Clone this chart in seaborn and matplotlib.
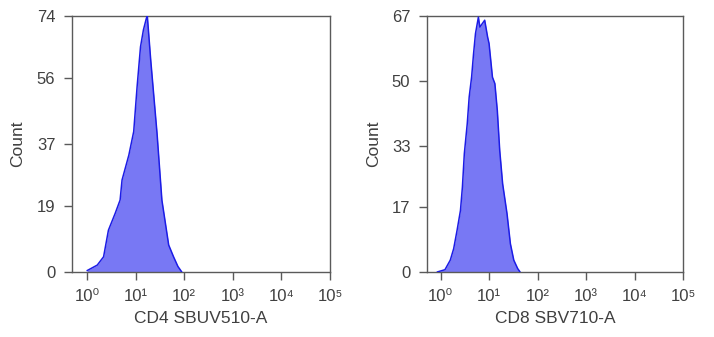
import numpy as np
import pandas as pd
import seaborn as sns
import matplotlib
matplotlib.use("Agg")
import matplotlib.pyplot as plt
from matplotlib.ticker import FixedLocator, NullLocator

# Histogram outlines: channel position (log10 of intensity) and event count
cd4_log = [0.00, 0.21, 0.34, 0.44, 0.58, 0.68, 0.72, 0.86, 0.96, 1.03, 1.10,
           1.16, 1.22, 1.24, 1.31, 1.44, 1.54, 1.68, 1.78, 1.87, 1.95]
cd4_count = [0.4, 2.0, 4.4, 12.1, 17.0, 20.8, 26.6, 33.8, 40.6, 53.6, 65.1,
             70.0, 73.3, 74.0, 61.3, 40.1, 20.8, 7.8, 4.4, 1.6, 0.0]

cd8_log = [-0.07, 0.09, 0.20, 0.27, 0.34, 0.41, 0.45, 0.49, 0.55, 0.59, 0.64,
           0.68, 0.72, 0.78, 0.81, 0.86, 0.91, 0.97, 1.00, 1.07, 1.12, 1.17,
           1.22, 1.28, 1.37, 1.44, 1.51, 1.59, 1.64]
cd8_count = [0.0, 0.6, 3.1, 6.1, 10.9, 16.1, 22.2, 31.0, 38.8, 45.8, 51.0,
             57.1, 62.4, 66.7, 64.1, 65.0, 65.9, 61.5, 59.8, 51.0, 49.3, 42.3,
             31.8, 23.1, 15.3, 7.4, 3.1, 0.9, 0.0]

cd4_yticks = [0, 19, 37, 56, 74]
cd8_yticks = [0, 17, 33, 50, 67]
decades = [0, 1, 2, 3, 4, 5]
decade_labels = ["10\u2070", "10\u00b9", "10\u00b2", "10\u00b3", "10\u2074", "10\u2075"]

panels = [
    ("CD4 SBUV510-A", cd4_log, cd4_count, cd4_yticks, -0.31),
    ("CD8 SBV710-A", cd8_log, cd8_count, cd8_yticks, -0.28),
]

sns.set_theme(style="white")
plt.rcParams["font.family"] = ["Liberation Sans", "DejaVu Sans"]

text_color = "#404040"
spine_color = "#5a5a5a"
fill_color = "#7878f4"
edge_color = "#1c1ce6"

fig = plt.figure(figsize=(7.14, 3.37), dpi=100)
axes_boxes = [
    [72 / 714, 1 - 272 / 337, (330 - 72) / 714, (272 - 16) / 337],
    [427 / 714, 1 - 272 / 337, (683 - 427) / 714, (272 - 16) / 337],
]

for box, (xlabel, logs, counts, yticks, xmin_log) in zip(axes_boxes, panels):
    ax = fig.add_axes(box)
    df = pd.DataFrame({"intensity": 10 ** np.asarray(logs), "count": counts})
    ax.fill_between(df["intensity"], df["count"], 0, color=fill_color,
                    linewidth=0, zorder=2)
    sns.lineplot(data=df, x="intensity", y="count", ax=ax, color=edge_color,
                 linewidth=1.1, sort=False, zorder=3)
    ax.set_xscale("log")
    ax.set_xlim(10 ** xmin_log, 10 ** 5)
    ax.set_ylim(0, yticks[-1])

    ax.xaxis.set_major_locator(FixedLocator([10.0 ** d for d in decades]))
    ax.xaxis.set_minor_locator(NullLocator())
    ax.set_xticklabels(decade_labels)
    ax.yaxis.set_major_locator(FixedLocator(yticks))
    ax.set_yticklabels([str(t) for t in yticks])

    ax.tick_params(axis="both", which="major", direction="out", length=6,
                   width=1.0, color=spine_color, labelcolor=text_color,
                   labelsize=12, pad=6, bottom=True, left=True)
    for spine in ax.spines.values():
        spine.set_visible(True)
        spine.set_color(spine_color)
        spine.set_linewidth(1.0)

    ax.set_xlabel(xlabel, fontsize=12.5, color=text_color, labelpad=5)
    ax.set_ylabel("Count", fontsize=12.5, color=text_color, labelpad=8)
    ax.grid(False)

fig.savefig("out.png", dpi=100)
